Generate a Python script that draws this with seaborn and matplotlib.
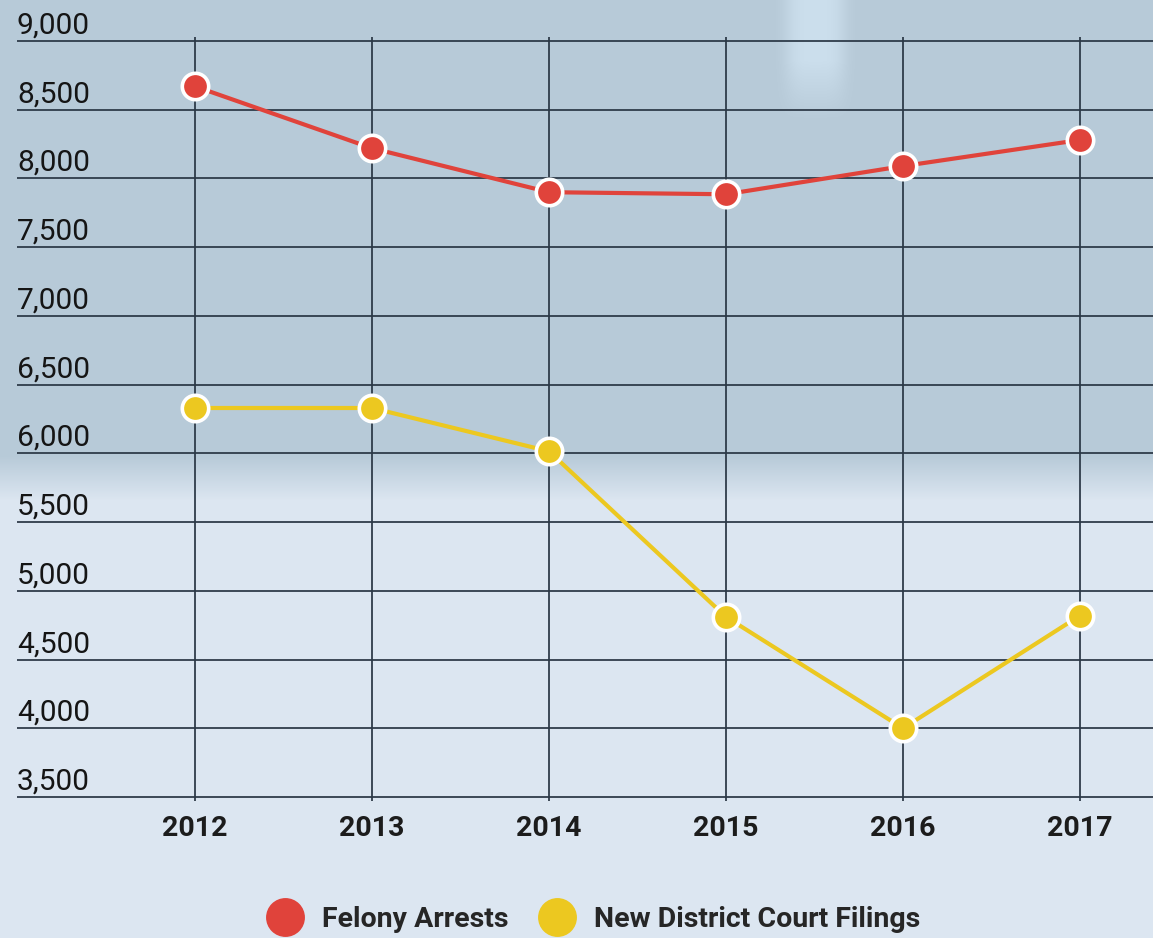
import numpy as np
import pandas as pd
import matplotlib.pyplot as plt
import matplotlib.colors as mcolors
from matplotlib.lines import Line2D
from matplotlib.transforms import blended_transform_factory
import seaborn as sns

years = [2012, 2013, 2014, 2015, 2016, 2017]
felony_arrests = [8670, 8220, 7900, 7885, 8090, 8280]
court_filings = [6330, 6330, 6015, 4810, 4000, 4820]
series_names = ['Felony Arrests', 'New District Court Filings']
y_ticks = [3500, 4000, 4500, 5000, 5500, 6000, 6500, 7000, 7500, 8000, 8500, 9000]

colors = {'Felony Arrests': '#e0433b', 'New District Court Filings': '#ecc820'}

df = pd.DataFrame({
    'year': years * 2,
    'value': felony_arrests + court_filings,
    'series': [series_names[0]] * len(years) + [series_names[1]] * len(years),
})

sns.set_style('white')
plt.rcParams['font.family'] = ['Roboto', 'DejaVu Sans']

W, H = 1153, 938
fig = plt.figure(figsize=(W / 100, H / 100), dpi=100)

# blurred photo-like background: darker band at the top, light below
bg = fig.add_axes([0, 0, 1, 1], zorder=-5)
top = np.array(mcolors.to_rgb('#b7cad8'))
bottom = np.array(mcolors.to_rgb('#dce6f1'))
rows = np.arange(H)
t = np.clip((rows - 455) / 45.0, 0, 1)[:, None]
col = top * (1 - t) + bottom * t
img = np.repeat(col[:, None, :], W, axis=1)
# lighter blurred window shape near the top
xs = np.arange(W)
win = np.exp(-((xs - 815) / 30.0) ** 4)[None, :] * np.clip((120 - rows) / 60.0, 0, 1)[:, None]
img = img + win[:, :, None] * 0.08
img = np.clip(img, 0, 1)
bg.imshow(img, aspect='auto', extent=[0, W, H, 0])
bg.axis('off')

# axes placement (pixel based)
left, right = 17, 1153
y_top_px, y_bot_px = 41 - 4, 797 + 4
ax = fig.add_axes([left / W, (H - y_bot_px) / H, (right - left) / W, (y_bot_px - y_top_px) / H])
ax.set_facecolor('none')

sns.lineplot(data=df, x='year', y='value', hue='series', palette=colors,
             marker='o', markersize=19, markeredgecolor='white', markeredgewidth=2.6,
             linewidth=3, legend=False, ax=ax, zorder=5)

px_per_unit = 756 / 5500
ax.set_ylim(3500 - 4 / px_per_unit, 9000 + 4 / px_per_unit)
ax.set_xlim(2012 - (195 - left) / 177, 2012 + (right - 195) / 177)
ax.set_xticks(years)
ax.set_xticklabels([str(y) for y in years], fontsize=20.5, fontweight='bold', color='#1c1c1c')
ax.set_yticks(y_ticks)
ax.set_yticklabels([])
ax.tick_params(axis='both', length=0)
ax.tick_params(axis='x', pad=10)
ax.grid(True, color='#2b3846', linewidth=1.4, alpha=0.9)
for s in ax.spines.values():
    s.set_visible(False)
ax.set_xlabel('')
ax.set_ylabel('')

trans = blended_transform_factory(ax.transAxes, ax.transData)
for v in y_ticks:
    ax.annotate(f'{v:,}', xy=(0, v), xycoords=trans, xytext=(0, 5.3), textcoords='offset points',
                ha='left', va='baseline', fontsize=21.5, color='#151515', annotation_clip=False)

handles = [Line2D([0], [0], marker='o', linestyle='none', markersize=28,
                  markerfacecolor=colors[n], markeredgecolor='none') for n in series_names]
fig.legend(handles, series_names, loc='center', bbox_to_anchor=(588 / W, (H - 919) / H),
           ncol=2, frameon=False, handletextpad=0.3, columnspacing=0.7,
           prop={'size': 20.5, 'weight': 'bold'})

fig.savefig('out.png', dpi=100)
